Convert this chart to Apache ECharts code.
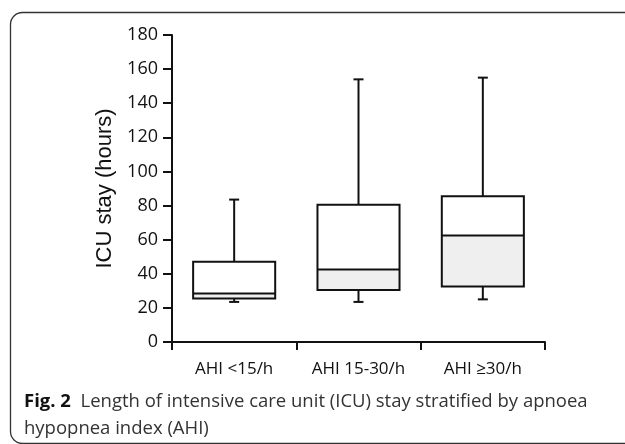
<!DOCTYPE html>
<html lang="en">
<head>
    <meta charset="UTF-8">
    <script src="https://cdn.jsdelivr.net/npm/echarts@6/dist/echarts.min.js"></script>
    <title>ICU stay by AHI</title>
    <style>
        html, body { margin: 0; padding: 0; background: #fff; }
        #chart { width: 625px; height: 444px; }
    </style>
</head>
<body>
    <div id="chart"></div>
    <script type="text/javascript">
        // categories and box values (hours)
        var categories = ['AHI <15/h', 'AHI 15-30/h', 'AHI ≥30/h'];
        var minVals = [23.5, 23.5, 25];
        var q1Vals = [25.5, 30.5, 32.5];
        var medVals = [28.5, 42.5, 62.5];
        var q3Vals = [47, 80.5, 85.5];
        var maxVals = [83.5, 154, 155];
        var yTicks = { min: 0, max: 180, interval: 20 };

        var boxData = categories.map(function (c, i) {
            return [i, minVals[i], q1Vals[i], medVals[i], q3Vals[i], maxVals[i]];
        });

        var chart = echarts.init(document.getElementById('chart'));

        function renderBox(params, api) {
            var x = api.value(0);
            var pMin = api.coord([x, api.value(1)]);
            var pQ1 = api.coord([x, api.value(2)]);
            var pMed = api.coord([x, api.value(3)]);
            var pQ3 = api.coord([x, api.value(4)]);
            var pMax = api.coord([x, api.value(5)]);
            var band = api.size([1, 0])[0];
            var w = band * 0.66;
            var cx = pMed[0];
            var left = cx - w / 2;
            var cap = 5;
            var line = { stroke: '#111', lineWidth: 2, fill: null };
            return {
                type: 'group',
                children: [
                    // whiskers
                    { type: 'line', shape: { x1: cx, y1: pQ3[1], x2: cx, y2: pMax[1] }, style: line },
                    { type: 'line', shape: { x1: cx - cap, y1: pMax[1], x2: cx + cap, y2: pMax[1] }, style: line },
                    { type: 'line', shape: { x1: cx, y1: pQ1[1], x2: cx, y2: pMin[1] }, style: line },
                    { type: 'line', shape: { x1: cx - cap, y1: pMin[1], x2: cx + cap, y2: pMin[1] }, style: line },
                    // lower half grey, upper half white
                    { type: 'rect', shape: { x: left, y: pMed[1], width: w, height: pQ1[1] - pMed[1] },
                      style: { fill: '#efefef', stroke: null } },
                    { type: 'rect', shape: { x: left, y: pQ3[1], width: w, height: pMed[1] - pQ3[1] },
                      style: { fill: '#fff', stroke: null } },
                    { type: 'rect', shape: { x: left, y: pQ3[1], width: w, height: pQ1[1] - pQ3[1] }, style: line },
                    { type: 'line', shape: { x1: left, y1: pMed[1], x2: left + w, y2: pMed[1] }, style: line }
                ]
            };
        }

        var option = {
            backgroundColor: '#fff',
            animation: false,
            grid: { left: 172, right: 80, top: 35, bottom: 102 },
            xAxis: {
                type: 'category',
                data: categories,
                axisLine: { lineStyle: { color: '#111', width: 2 } },
                axisTick: { show: true, interval: 0, length: 8, lineStyle: { color: '#111', width: 2 } },
                axisLabel: { interval: 0, hideOverlap: false, color: '#111', fontSize: 17, fontFamily: 'Open Sans', margin: 19 }
            },
            yAxis: {
                type: 'value',
                min: yTicks.min,
                max: yTicks.max,
                interval: yTicks.interval,
                name: 'ICU stay (hours)',
                nameLocation: 'middle',
                nameGap: 55,
                nameTextStyle: { color: '#111', fontSize: 22, fontFamily: 'Liberation Sans' },
                splitLine: { show: false },
                axisLine: { show: true, lineStyle: { color: '#111', width: 2 } },
                axisTick: { show: true, length: 9, lineStyle: { color: '#111', width: 2 } },
                axisLabel: { color: '#111', fontSize: 18, fontFamily: 'Open Sans', margin: 14 }
            },
            series: [{
                type: 'custom',
                renderItem: renderBox,
                encode: { x: 0, y: [1, 2, 3, 4, 5] },
                data: boxData
            }],
            graphic: [
                {
                    type: 'rect',
                    left: 8, top: 10,
                    shape: { width: 700, height: 431, r: 12 },
                    style: { fill: null, stroke: '#333', lineWidth: 1.3 },
                    silent: true
                },
                {
                    type: 'text',
                    left: 24, top: 388,
                    style: {
                        text: '{b|Fig. 2}  Length of intensive care unit (ICU) stay stratified by apnoea\nhypopnea index (AHI)',
                        fontSize: 18.5,
                        lineHeight: 27,
                        fontFamily: 'Open Sans',
                        fill: '#333',
                        rich: {
                            b: { fontWeight: 'bold', fontSize: 18.5, fontFamily: 'Open Sans', fill: '#111' }
                        }
                    }
                }
            ]
        };
        chart.setOption(option);
    </script>
</body>
</html>
